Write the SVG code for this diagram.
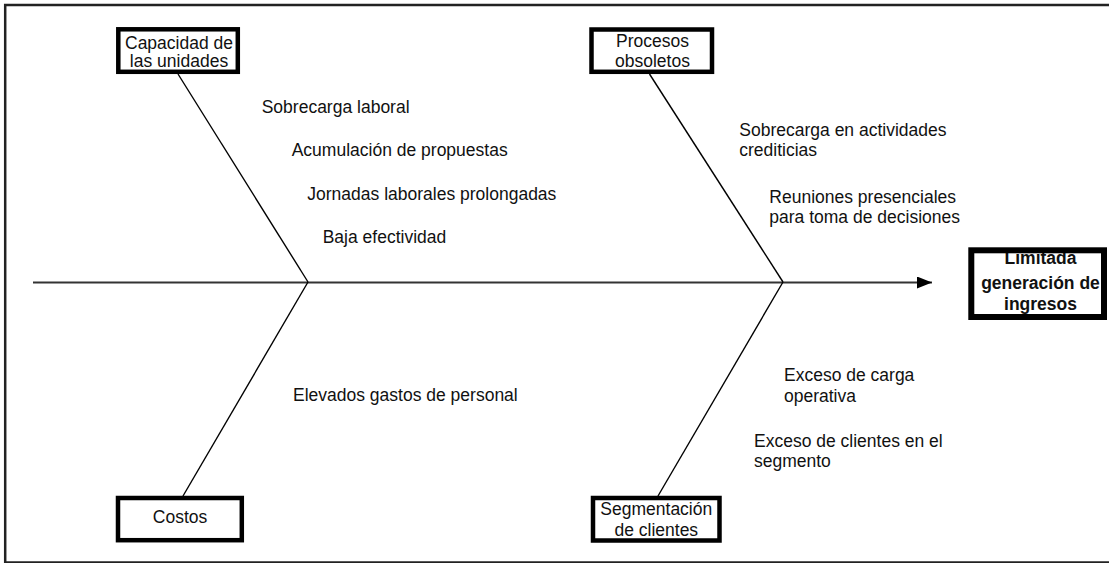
<svg xmlns="http://www.w3.org/2000/svg" width="1109" height="563" viewBox="0 0 1109 563">
  <defs>
    <style>
      text { font-family: "Liberation Sans", Arial, sans-serif; font-size: 17.5px; fill: #111; }
      .c { text-anchor: middle; }
      .b { font-weight: bold; }
      .box { fill: #fff; stroke: #000; stroke-width: 4.5; }
      .head { fill: none; stroke: #000; stroke-width: 6; }
      .bone { stroke: #000; stroke-width: 1.4; fill: none; }
      .spine { stroke: #333; stroke-width: 2; fill: none; }
    </style>
    <marker id="arrow" viewBox="0 0 15 12" refX="15" refY="6" markerWidth="15" markerHeight="12" markerUnits="userSpaceOnUse" orient="auto">
      <path d="M0,0 L15,6 L0,12 Z" fill="#000"/>
    </marker>
  </defs>
  <rect x="0" y="0" width="1109" height="563" fill="#fff"/>
  <rect x="5.2" y="5" width="1110" height="557.5" fill="none" stroke="#222" stroke-width="2.5"/>

  <g id="connectors">
    <line class="spine" x1="33" y1="282.5" x2="932" y2="282.5" marker-end="url(#arrow)"/>
    <line class="bone" x1="178" y1="74" x2="308" y2="282"/>
    <line class="bone" x1="183" y1="496" x2="308" y2="282"/>
    <line class="bone" x1="649.5" y1="74" x2="783" y2="282"/>
    <line class="bone" x1="658" y1="496" x2="783" y2="282"/>
  </g>

  <g id="node-capacidad">
    <rect class="box" x="118.3" y="29.3" width="119.5" height="42.5"/>
    <text class="c" x="179" y="48.5">Capacidad de</text>
    <text class="c" x="179" y="67">las unidades</text>
  </g>

  <g id="node-procesos">
    <rect class="box" x="591.5" y="29.5" width="120.5" height="42.3"/>
    <text class="c" x="652.5" y="47">Procesos</text>
    <text class="c" x="652.5" y="67">obsoletos</text>
  </g>

  <g id="node-costos">
    <rect class="box" x="118" y="498" width="123.8" height="42.2"/>
    <text class="c" x="180" y="523">Costos</text>
  </g>

  <g id="node-segmentacion">
    <rect class="box" x="593" y="498" width="126.5" height="42.5"/>
    <text class="c" x="656.3" y="514.5">Segmentación</text>
    <text class="c" x="656.3" y="536">de clientes</text>
  </g>

  <g id="node-limitada">
    <rect x="971" y="250" width="133" height="67" fill="#fff"/>
    <text class="c b" x="1040.5" y="264">Limitada</text>
    <text class="c b" x="1040.5" y="289">generación de</text>
    <text class="c b" x="1040.5" y="310">ingresos</text>
    <rect class="head" x="971.3" y="250.3" width="132.7" height="66.7"/>
  </g>

  <g id="causes-capacidad">
    <text x="261.7" y="112.7">Sobrecarga laboral</text>
    <text x="291.7" y="156.3">Acumulación de propuestas</text>
    <text x="307.3" y="200">Jornadas laborales prolongadas</text>
    <text x="322.7" y="243">Baja efectividad</text>
  </g>

  <g id="causes-procesos">
    <text x="739.3" y="136.3">Sobrecarga en actividades</text>
    <text x="739.3" y="155.5">crediticias</text>
    <text x="769.3" y="203">Reuniones presenciales</text>
    <text x="769.3" y="222.5">para toma de decisiones</text>
  </g>

  <g id="causes-costos">
    <text x="293" y="401">Elevados gastos de personal</text>
  </g>

  <g id="causes-segmentacion">
    <text x="784" y="380.7">Exceso de carga</text>
    <text x="784" y="401.5">operativa</text>
    <text x="754" y="446.5">Exceso de clientes en el</text>
    <text x="754" y="467">segmento</text>
  </g>
</svg>
